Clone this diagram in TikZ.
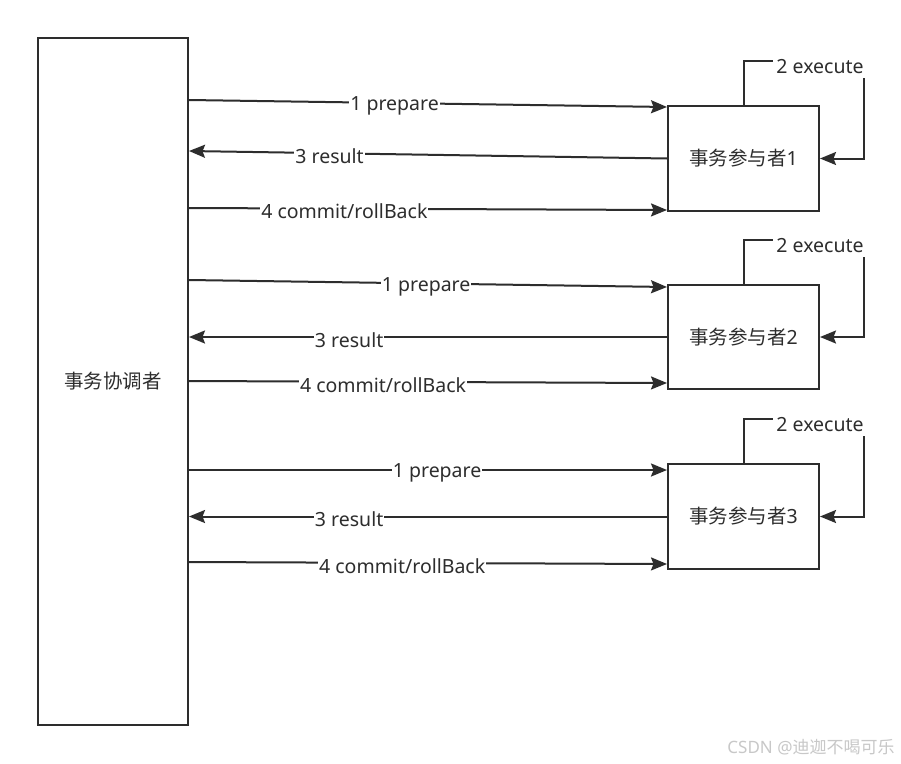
\documentclass[tikz,border=0pt]{standalone}
\usepackage{fontspec}
\setmainfont{Noto Sans}
\newfontfamily\cjk{Noto Sans CJK SC}
\usetikzlibrary{arrows.meta,calc}
\definecolor{ln}{RGB}{45,45,45}
\definecolor{wm}{RGB}{200,200,200}
\tikzset{
  box/.style={draw=ln, line width=2pt, text=ln, font=\fontsize{19.5}{22}\selectfont, inner sep=0pt},
  arr/.style={draw=ln, line width=2pt, -{Stealth[length=16pt,width=13pt,inset=2.5pt]}},
  lab/.style={fill=white, text=ln, font=\fontsize{19.5}{22}\selectfont, inner xsep=1pt, inner ysep=2pt, yshift=-3pt}
}
\begin{document}
\begin{tikzpicture}[x=1pt,y=-1pt]
\useasboundingbox (0,0) rectangle (901,763);
\fill[white] (0,0) rectangle (901,763);

\node[box, minimum width=150pt, minimum height=687pt] (coord) at (113,381.5) {{\cjk 事务协调者}};
\node[box, minimum width=151pt, minimum height=105pt] (p1) at (743.5,158.5) {{\cjk 事务参与者}1};
\node[box, minimum width=151pt, minimum height=104pt] (p2) at (743.5,337) {{\cjk 事务参与者}2};
\node[box, minimum width=151pt, minimum height=105pt] (p3) at (743.5,516.5) {{\cjk 事务参与者}3};

% participant 1
\draw[arr] ([yshift=-63pt]coord.north east) -- node[lab, pos=0.43] {1 prepare} ([yshift=-2pt]p1.north west);
\draw[arr] (p1.west) -- node[lab, pos=0.706] {3 result} ([yshift=-114pt]coord.north east);
\draw[arr] ([yshift=-171pt]coord.north east) -- node[lab, pos=0.325] {4 commit/rollBack} ([yshift=2pt]p1.south west);
\draw[arr] (p1.north) -- ++(0,-44) -| ([xshift=44pt]p1.east) -- (p1.east);
\node[lab, inner xsep=3pt, inner ysep=4pt] (e1) at (820,64) {2 execute};

% participant 2
\draw[arr] ([yshift=-243pt]coord.north east) -- node[lab, pos=0.496] {1 prepare} ([yshift=-3pt]p2.north west);
\draw[arr] (p2.west) -- node[lab, pos=0.665] {3 result} (coord.east |- p2.west);
\draw[arr] ([yshift=-344pt]coord.north east) -- node[lab, pos=0.406] {4 commit/rollBack} ([yshift=7pt]p2.south west);
\draw[arr] (p2.north) -- ++(0,-44) -| ([xshift=44pt]p2.east) -- (p2.east);
\node[lab, inner xsep=3pt, inner ysep=4pt] (e2) at (820,243) {2 execute};

% participant 3
\draw[arr] ([yshift=-433pt]coord.north east) -- node[lab, pos=0.519] {1 prepare} ([yshift=-7pt]p3.north west);
\draw[arr] (p3.west) -- node[lab, pos=0.665] {3 result} (coord.east |- p3.west);
\draw[arr] ([yshift=-525pt]coord.north east) -- node[lab, pos=0.446] {4 commit/rollBack} ([yshift=6pt]p3.south west);
\draw[arr] (p3.north) -- ++(0,-44) -| ([xshift=44pt]p3.east) -- (p3.east);
\node[lab, inner xsep=3pt, inner ysep=4pt] (e3) at (820,422) {2 execute};

\node[text=wm, font=\fontsize{17}{19}\selectfont, inner sep=0pt] (wmk) at (811,747) {CSDN @{\cjk 迪迦不喝可乐}};
\end{tikzpicture}
\end{document}
